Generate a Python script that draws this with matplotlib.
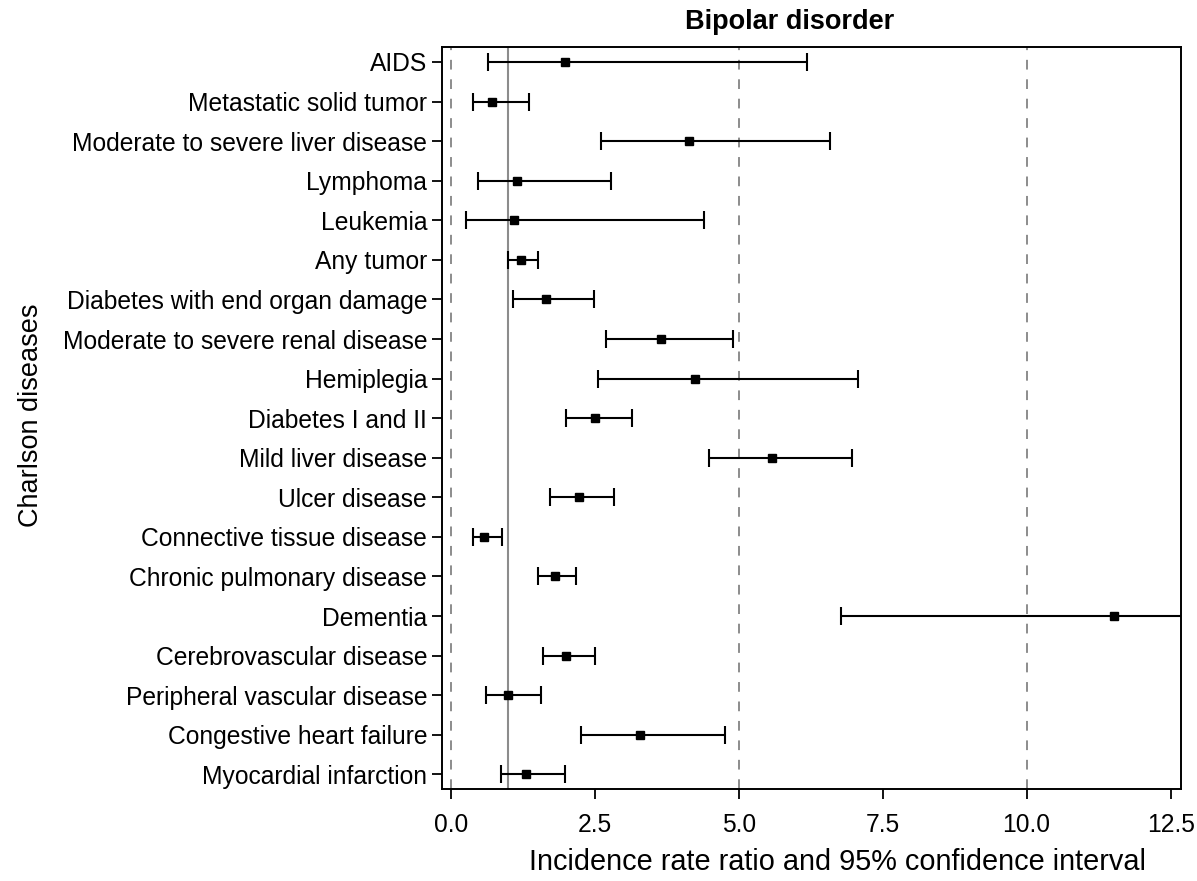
import numpy as np
import matplotlib.pyplot as plt

plt.rcParams['font.family'] = ['Liberation Sans', 'DejaVu Sans']

# rows from top to bottom
diseases = ["AIDS", "Metastatic solid tumor", "Moderate to severe liver disease",
            "Lymphoma", "Leukemia", "Any tumor", "Diabetes with end organ damage",
            "Moderate to severe renal disease", "Hemiplegia", "Diabetes I and II",
            "Mild liver disease", "Ulcer disease", "Connective tissue disease",
            "Chronic pulmonary disease", "Dementia", "Cerebrovascular disease",
            "Peripheral vascular disease", "Congestive heart failure",
            "Myocardial infarction"]
irr = [1.99, 0.72, 4.14, 1.15, 1.10, 1.22, 1.65, 3.65, 4.25, 2.51,
       5.58, 2.22, 0.58, 1.81, 11.52, 2.00, 0.99, 3.28, 1.31]
lower = [0.64, 0.39, 2.61, 0.48, 0.27, 1.00, 1.09, 2.70, 2.55, 2.00,
         4.49, 1.72, 0.38, 1.52, 6.77, 1.61, 0.61, 2.26, 0.88]
upper = [6.18, 1.36, 6.59, 2.78, 4.40, 1.51, 2.48, 4.91, 7.07, 3.14,
         6.97, 2.84, 0.89, 2.17, 18.0, 2.51, 1.57, 4.76, 1.99]
xticks = [0.0, 2.5, 5.0, 7.5, 10.0, 12.5]

irr = np.array(irr)
lower = np.array(lower)
upper = np.array(upper)
y = np.arange(len(diseases))[::-1]

fig = plt.figure(figsize=(11.97, 8.81), dpi=100)
ax = fig.add_axes([0.3695, 0.1044, 0.6171, 0.8419])

for xv in [0, 5, 10]:
    ax.axvline(xv, color='#8c8c8c', ls=(0, (5, 5)), lw=1.4, zorder=1)
ax.axvline(1, color='#8c8c8c', lw=1.5, zorder=1)

ax.errorbar(irr, y, xerr=[irr - lower, upper - irr], fmt='s', color='black',
            ms=6, capsize=6.5, capthick=1.5, elinewidth=1.5, zorder=3)

ax.set_xlim(-0.146, 12.68)
ax.set_ylim(-0.37, len(diseases) - 1 + 0.37)
ax.set_xticks(xticks)
ax.set_xticklabels([f"{t:.1f}" for t in xticks])
ax.set_yticks(y)
ax.set_yticklabels(diseases)
ax.tick_params(axis='both', labelsize=17.7, length=7, width=1.3, colors='black')
ax.tick_params(axis='x', pad=10)
ax.tick_params(axis='y', pad=4)
for s in ax.spines.values():
    s.set_linewidth(1.4)

fig.text(0.66, 1 - 22 / 881, "Bipolar disorder", fontsize=19.5, fontweight='bold',
         ha='center', va='center')
fig.text(0.70, 1 - 862 / 881, "Incidence rate ratio and 95% confidence interval",
         fontsize=20.8, ha='center', va='center')
fig.text(31 / 1197, 1 - 415 / 881, "Charlson diseases", fontsize=19.5,
         rotation=90, ha='center', va='center')

fig.savefig("out.png", dpi=100)
